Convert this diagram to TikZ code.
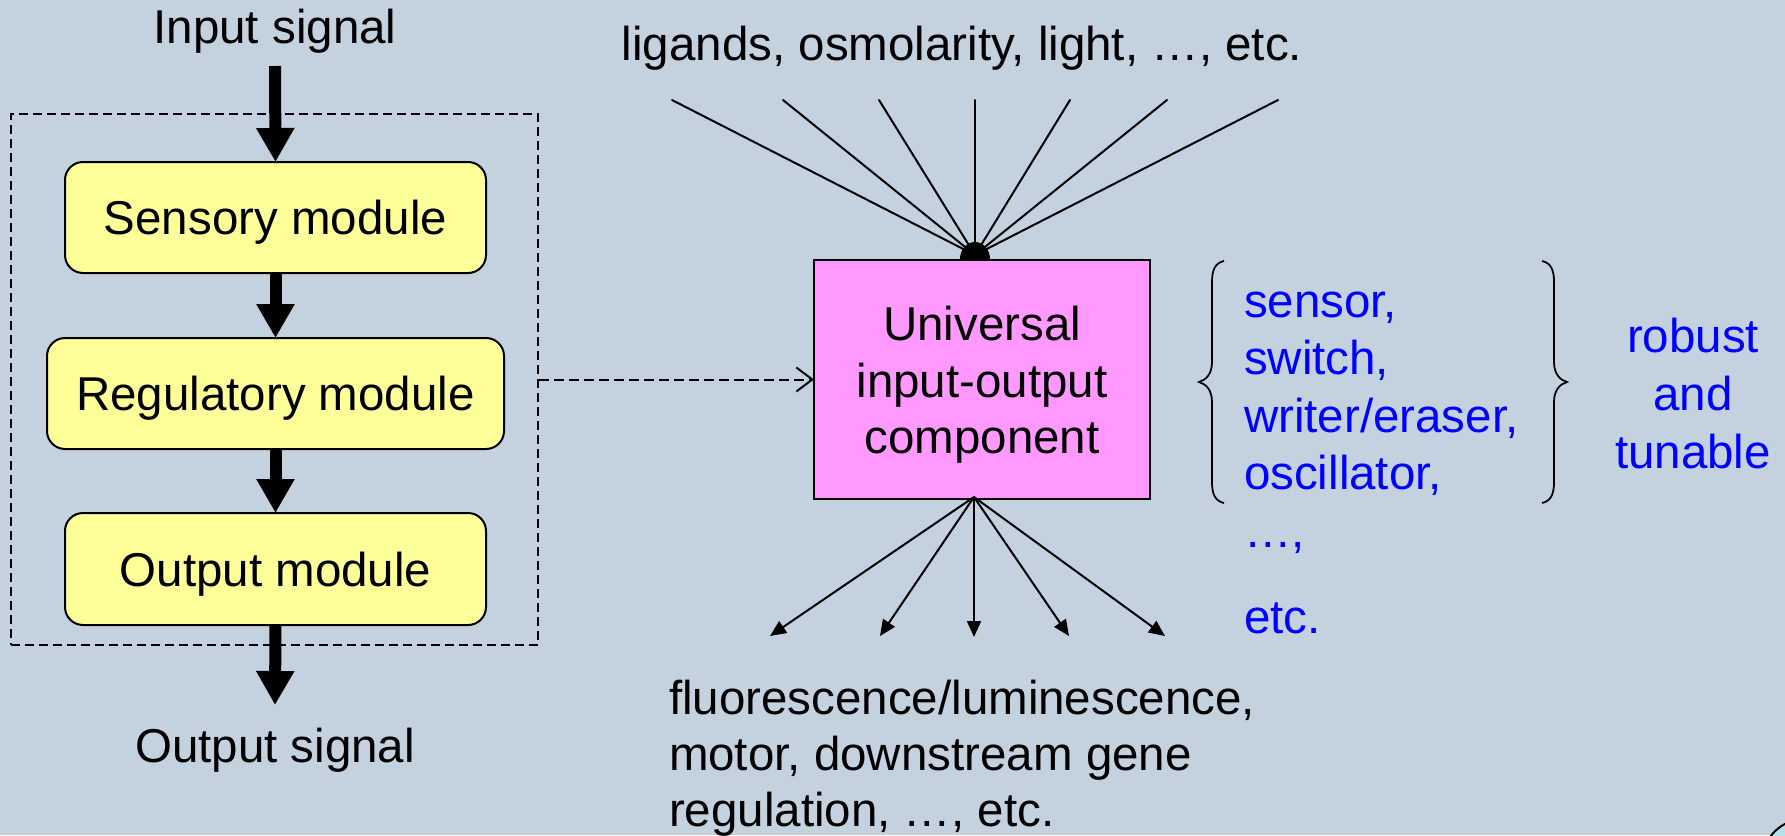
\documentclass[tikz,border=0pt]{standalone}
\usepackage{fontspec}
\setmainfont{Liberation Sans}
\usetikzlibrary{arrows.meta}
\definecolor{bg}{RGB}{196,210,223}
\definecolor{boxyellow}{RGB}{255,255,153}
\definecolor{boxpink}{RGB}{255,153,255}
\definecolor{txtblue}{RGB}{0,0,255}
\definecolor{cornercyan}{RGB}{180,226,232}
\begin{document}
\begin{tikzpicture}[x=1pt,y=-1pt,
  txt/.style={inner sep=0pt, outer sep=0pt, font=\fontsize{47.5}{56.5}\selectfont},
  module/.style={txt, draw=black, line width=2pt, fill=boxyellow, rounded corners=18pt, text depth=0pt},
  bigarrow/.style={line width=12pt, -{Triangle[length=34pt,width=36pt]}},
  fanline/.style={line width=2pt, line cap=round},
  outarrow/.style={line width=2pt, -{Triangle[length=16pt,width=14pt]}},
  dashbox/.style={draw=black, line width=1.75pt, dash pattern=on 9pt off 5pt},
  dashlink/.style={line width=2pt, dash pattern=on 10pt off 5pt, -{Straight Barb[length=16pt,width=24pt]}},
  bracepath/.style={line width=1.75pt},
]
\useasboundingbox (0,0) rectangle (1785,835);
\fill[bg] (0,0) rectangle (1785,835);

% left: module chain
\node[dashbox, minimum width=527pt, minimum height=531pt] (group) at (274.5,379.5) {};
\node[module, minimum width=421pt, minimum height=111pt] (sens) at (275.5,217.5) {Sensory module};
\node[module, minimum width=457pt, minimum height=111pt] (reg) at (275.5,393.5) {Regulatory module};
\node[module, minimum width=421pt, minimum height=112pt] (outm) at (275.5,569) {Output module};

\node[txt, anchor=base] (insig) at (275,43) {Input signal};
\node[txt, anchor=base] (outsig) at (275,762) {Output signal};
\coordinate (inTop) at (275,66);
\coordinate (outTip) at (275,705);
\draw[bigarrow] (inTop) -- (sens.north);
\draw[bigarrow] (sens.south) -- (reg.north);
\draw[bigarrow] (reg.south) -- (outm.north);
\draw[bigarrow] (outm.south) -- (outTip);

% fan of inputs
\coordinate (hub) at (975,255);
\fill (975,259) ellipse [x radius=15, y radius=17];
\foreach \x [count=\i] in {672,783,879,975,1070,1167,1278} {
  \coordinate (in\i) at (\x,100);
  \draw[fanline] (in\i) -- (hub);
}

% universal component
\node[txt, draw=black, line width=2pt, fill=boxpink, minimum width=336pt, minimum height=239pt,
      align=center, text depth=0pt] (pink) at (982,379.5)
      {\rule{0pt}{35pt}Universal\\input-output\\component};
\draw[dashlink] (group.east) -- (pink.west);

% fan of outputs
\coordinate (outHub) at (974,497);
\foreach \x/\y [count=\i] in {770/636,880/636,974/637,1069/636,1165/636} {
  \coordinate (o\i) at (\x,\y);
  \draw[outarrow] (outHub) -- (o\i);
}

% texts
\node[txt, anchor=base] (ligands) at (962,60) {ligands, osmolarity, light, …, etc.};
\node[txt, anchor=north west, align=left, font=\fontsize{47.5}{56}\selectfont] (effects) at (669,679)
  {\rule{0pt}{35pt}fluorescence/luminescence,\\motor, downstream gene\\regulation, …, etc.};
\node[txt, text=txtblue, anchor=north west, align=left, font=\fontsize{47.5}{57.5}\selectfont] (roles) at (1244,282)
  {\rule{0pt}{35pt}sensor,\\switch,\\writer/eraser,\\oscillator,\\…,\\[28.5pt]etc.};
\node[txt, text=txtblue, anchor=north, align=center, font=\fontsize{47.5}{58}\selectfont] (robust) at (1693,317)
  {\rule{0pt}{35pt}robust\\and\\tunable};

% braces
\draw[bracepath] (1224,261) .. controls (1215,263) and (1212,270) .. (1212,282) -- (1212,362)
  .. controls (1212,374) and (1206,380) .. (1199,382)
  .. controls (1206,384) and (1212,390) .. (1212,402) -- (1212,482)
  .. controls (1212,494) and (1215,501) .. (1224,503);
\draw[bracepath] (1542,261) .. controls (1551,263) and (1554,270) .. (1554,282) -- (1554,362)
  .. controls (1554,374) and (1560,380) .. (1567,382)
  .. controls (1560,384) and (1554,390) .. (1554,402) -- (1554,482)
  .. controls (1554,494) and (1551,501) .. (1542,503);

% corner fragment
\begin{scope}
\clip (0,0) rectangle (1785,835);
\draw[line width=2pt, fill=cornercyan] (1805,862) circle [radius=43];
\end{scope}
\end{tikzpicture}
\end{document}
